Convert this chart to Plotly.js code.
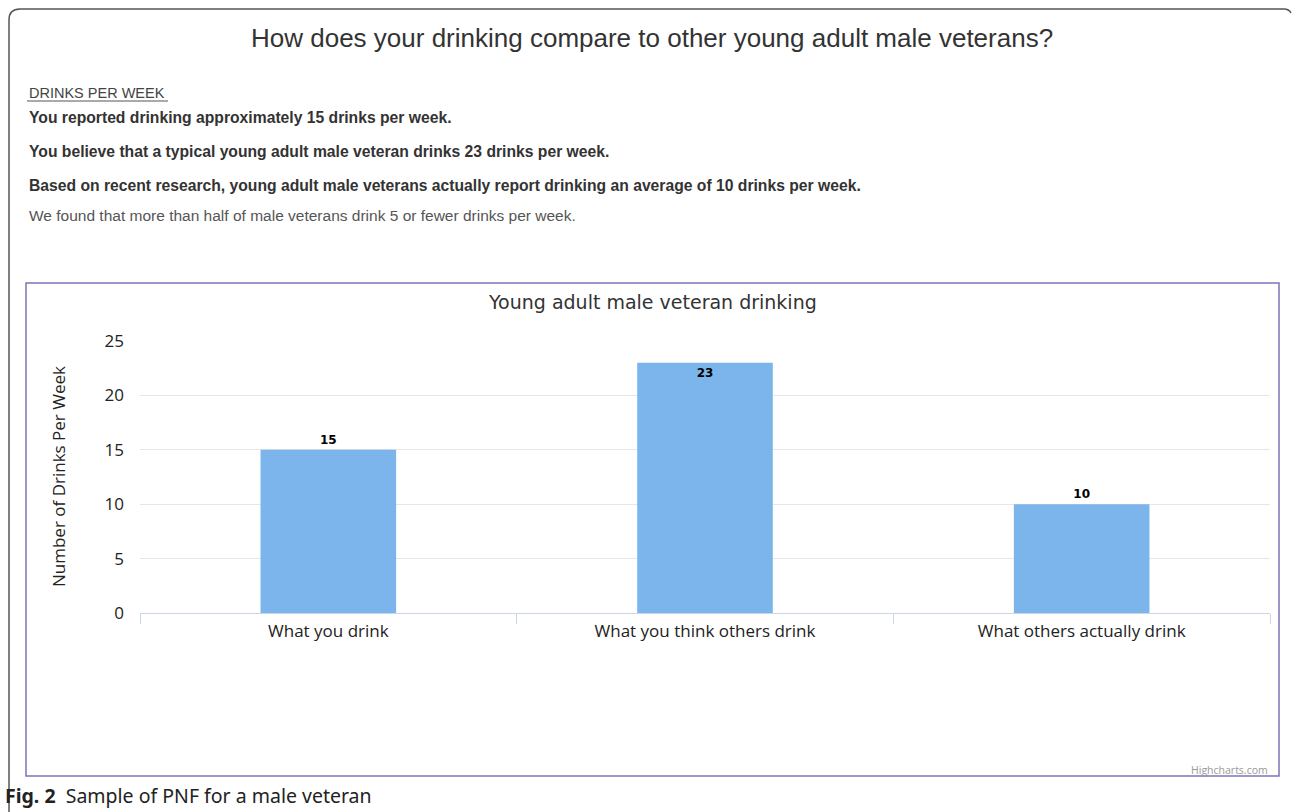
<!DOCTYPE html>
<html>
<head>
<meta charset="utf-8">
<script src="https://cdn.plot.ly/plotly-3.0.1.min.js"></script>
<style>
html,body{margin:0;padding:0;background:#fff;}
#chart{width:1293px;height:812px;}
</style>
</head>
<body>
<div id="chart"></div>
<script>
// ---- data ----
const categories = ["What you drink", "What you think others drink", "What others actually drink"];
const drinksPerWeek = [15, 23, 10];
const labelPositions = ["outside", "inside", "outside"];
const yTickValues = [0, 5, 10, 15, 20, 25];

const pageTitle = "How does your drinking compare to other young adult male veterans?";
const sectionHeading = "DRINKS PER WEEK";
const boldLines = [
  "You reported drinking approximately 15 drinks per week.",
  "You believe that a typical young adult male veteran drinks 23 drinks per week.",
  "Based on recent research, young adult male veterans actually report drinking an average of 10 drinks per week."
];
const plainLine = "We found that more than half of male veterans drink 5 or fewer drinks per week.";
const chartTitle = "Young adult male veteran drinking";
const yAxisTitle = "Number of Drinks Per Week";
const creditText = "Highcharts.com";
const captionBold = "Fig. 2";
const captionText = "Sample of PNF for a male veteran";

// ---- layout geometry (pixel -> paper) ----
const W = 1293, H = 812;
const L = 140, R = 1270, T = 341, B = 613;
const px = x => (x - L) / (R - L);
const py = y => (B - y) / (B - T);

const trace = {
  type: "bar",
  x: categories,
  y: drinksPerWeek,
  width: 0.36,
  marker: {color: "#7cb5ec"},
  text: drinksPerWeek.map(String),
  textposition: labelPositions,
  insidetextanchor: "end",
  textfont: {family: "DejaVu Sans, Verdana, sans-serif", size: 12, color: "#000", weight: 700},
  cliponaxis: false,
  hoverinfo: "x+y"
};

const headerFont = "Liberation Sans, Arial, sans-serif";
const annotations = [
  {text: pageTitle, x: px(652), y: py(38), font: {family: headerFont, size: 26, color: "#333"}, xanchor: "center", yanchor: "middle"},
  {text: sectionHeading, x: px(27), y: py(93), font: {family: headerFont, size: 14.5, color: "#444"}, xanchor: "left", yanchor: "middle"},
  {text: "<b>" + boldLines[0] + "</b>", x: px(27), y: py(117), font: {family: headerFont, size: 15.7, color: "#333"}, xanchor: "left", yanchor: "middle"},
  {text: "<b>" + boldLines[1] + "</b>", x: px(27), y: py(151), font: {family: headerFont, size: 15.7, color: "#333"}, xanchor: "left", yanchor: "middle"},
  {text: "<b>" + boldLines[2] + "</b>", x: px(27), y: py(185), font: {family: headerFont, size: 15.7, color: "#333"}, xanchor: "left", yanchor: "middle"},
  {text: plainLine, x: px(27), y: py(215), font: {family: headerFont, size: 15.5, color: "#555"}, xanchor: "left", yanchor: "middle"},
  {text: chartTitle, x: px(652), y: py(302), font: {family: "DejaVu Sans, Verdana, sans-serif", size: 19, color: "#333"}, xanchor: "center", yanchor: "middle"},
  {text: yAxisTitle, x: px(58), y: py(477), textangle: -90, font: {family: "Open Sans, sans-serif", size: 17, color: "#222"}, xanchor: "center", yanchor: "middle"},
  {text: creditText, x: px(1270), y: py(770), font: {family: "Open Sans, sans-serif", size: 10.5, color: "#999"}, xanchor: "right", yanchor: "middle"},
  {text: "<b>" + captionBold + "</b>  " + captionText, x: px(3), y: py(795), font: {family: "Noto Sans, sans-serif", size: 19.5, color: "#222"}, xanchor: "left", yanchor: "middle"}
].map(a => Object.assign({xref: "paper", yref: "paper", showarrow: false}, a));

const shapes = [
  // outer frame (top line, rounded left corner, left line, right corner)
  {type: "path", xref: "paper", yref: "paper",
   path: `M ${px(9)},${py(812)} L ${px(9)},${py(20)} Q ${px(9)},${py(9)} ${px(20)},${py(9)} L ${px(1284)},${py(9)} Q ${px(1289)},${py(9)} ${px(1291)},${py(13)}`,
   line: {color: "#555", width: 1.5}},
  // inner chart box
  {type: "rect", xref: "paper", yref: "paper", x0: px(26), x1: px(1279), y0: py(283), y1: py(776),
   line: {color: "#7f74b8", width: 1.5}},
  // underline for section heading
  {type: "line", xref: "paper", yref: "paper", x0: px(27), x1: px(168), y0: py(101), y1: py(101),
   line: {color: "#555", width: 1}}
];

const layout = {
  width: W, height: H,
  margin: {l: L, r: W - R, t: T, b: H - B, pad: 0},
  paper_bgcolor: "#fff",
  plot_bgcolor: "#fff",
  showlegend: false,
  bargap: 0.64,
  xaxis: {
    type: "category",
    showgrid: false,
    showline: true,
    linecolor: "#ccd6eb",
    linewidth: 1,
    ticks: "outside",
    tickson: "boundaries",
    ticklen: 10,
    tickcolor: "#ccd6eb",
    ticklabelstandoff: 3,
    tickfont: {family: "Open Sans, sans-serif", size: 17, color: "#222"},
    fixedrange: true
  },
  yaxis: {
    range: [0, 25],
    tickvals: yTickValues,
    showgrid: true,
    gridcolor: "#e6e6e6",
    gridwidth: 1,
    zeroline: false,
    showline: false,
    ticks: "",
    ticklabelstandoff: 15,
    tickfont: {family: "Open Sans, sans-serif", size: 17, color: "#222"},
    fixedrange: true
  },
  annotations: annotations,
  shapes: shapes,
  font: {family: "Open Sans, sans-serif"}
};

Plotly.newPlot("chart", [trace], layout, {displayModeBar: false, staticPlot: true});
</script>
</body>
</html>
